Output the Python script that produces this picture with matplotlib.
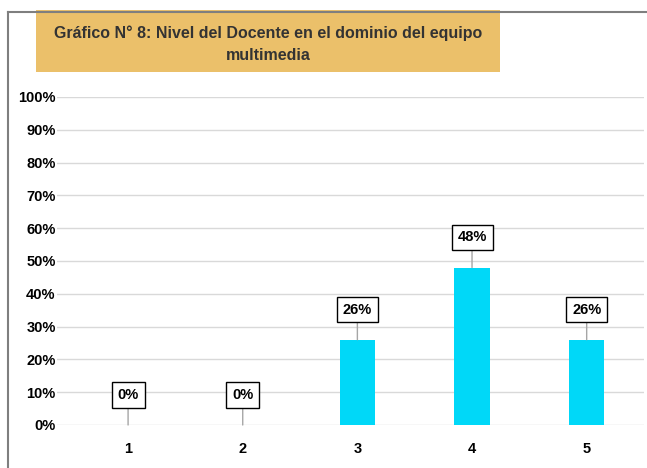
import matplotlib.pyplot as plt
from matplotlib.patches import Rectangle
from matplotlib.lines import Line2D
from matplotlib.ticker import PercentFormatter

categories = ['1', '2', '3', '4', '5']
values = [0.0, 0.0, 0.26, 0.48, 0.26]
labels = ['0%', '0%', '26%', '48%', '26%']
yticks = [0, 0.1, 0.2, 0.3, 0.4, 0.5, 0.6, 0.7, 0.8, 0.9, 1.0]
title_lines = ['Gráfico N° 8: Nivel del Docente en el dominio del equipo', 'multimedia']

W, H = 647, 468
fig = plt.figure(figsize=(W / 100, H / 100), dpi=100)
plt.rcParams['font.family'] = ['Liberation Sans', 'DejaVu Sans']

# outer frame (grey lines on left and top)
fig.add_artist(Line2D([8 / W, 8 / W], [0, 1 - 12 / H], color='#7f7f7f', lw=1.5))
fig.add_artist(Line2D([8 / W, 1], [1 - 12 / H, 1 - 12 / H], color='#7f7f7f', lw=1.5))

# title box
fig.add_artist(Rectangle((36 / W, 1 - 72 / H), (500 - 36) / W, 62 / H,
                         facecolor='#ebc06a', edgecolor='none', zorder=1))
for line, yy in zip(title_lines, [33, 56]):
    fig.text(268 / W, 1 - yy / H, line, ha='center', va='center', fontsize=11.5,
             fontweight='bold', color='#333333', zorder=5)

ax = fig.add_axes([57 / W, 1 - 425 / H, (644 - 57) / W, (425 - 97) / H])
x = list(range(1, len(categories) + 1))
ax.bar(x, values, width=0.31, color='#00d8f8', zorder=2)

for xi, v, lab in zip(x, values, labels):
    ax.annotate(lab, xy=(xi, v), xytext=(xi, v + 0.092), ha='center', va='center',
                fontsize=10.5, fontweight='bold', color='black',
                bbox=dict(boxstyle='square,pad=0.4', facecolor='white', edgecolor='black', lw=1),
                arrowprops=dict(arrowstyle='-', color='#a6a6a6', lw=1, shrinkA=0, shrinkB=0),
                zorder=3)

ax.set_xlim(0.38, 5.5)
ax.set_ylim(0, 1)
ax.set_yticks(yticks)
ax.yaxis.set_major_formatter(PercentFormatter(1.0, decimals=0))
ax.set_xticks(x)
ax.set_xticklabels(categories)
ax.grid(axis='y', color='#d9d9d9', lw=1, zorder=0)
for s in ax.spines.values():
    s.set_visible(False)
ax.tick_params(length=0, labelsize=10.5)
ax.tick_params(axis='y', pad=1)
ax.tick_params(axis='x', pad=12)
for t in ax.get_xticklabels() + ax.get_yticklabels():
    t.set_fontweight('bold')

fig.savefig('out.png', dpi=100)
